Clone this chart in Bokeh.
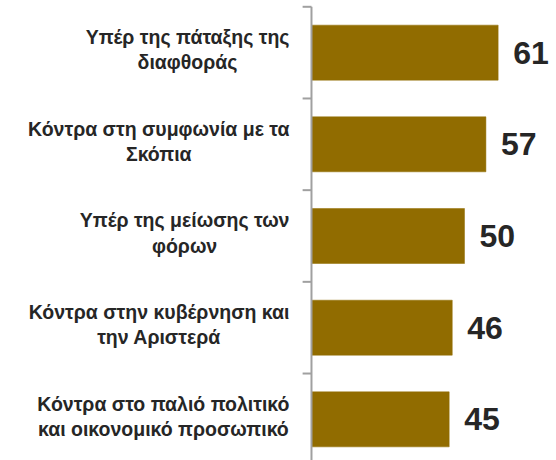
from bokeh.plotting import figure
from bokeh.models import ColumnDataSource, FactorRange, Range1d
from bokeh.core.properties import value
from bokeh.embed import file_html
from bokeh.resources import INLINE

categories = [
    "Υπέρ της πάταξης της\nδιαφθοράς",
    "Κόντρα στη συμφωνία με τα\nΣκόπια",
    "Υπέρ της μείωσης των\nφόρων",
    "Κόντρα στην κυβέρνηση και\nτην Αριστερά",
    "Κόντρα στο παλιό πολιτικό\nκαι οικονομικό προσωπικό",
]
values = [61, 57, 50, 46, 45]
value_labels = [str(v) for v in values]

BAR = "#916C00"
AXIS = "#A0A0A0"
TEXT = "#262626"

src = ColumnDataSource(dict(cat=categories, val=values, lab=value_labels,
                            zero=[0] * len(values), lx=[-7.2] * len(values)))

y_range = FactorRange(factors=list(reversed(categories)),
                      range_padding=-0.0513, range_padding_units="absolute")
x_range = Range1d(-101.63, 80.07)

p = figure(width=556, height=460, y_range=y_range, x_range=x_range,
           output_backend="svg", toolbar_location=None,
           x_axis_location=None, y_axis_location=None,
           min_border=0, min_border_left=0, min_border_right=0,
           min_border_top=11, min_border_bottom=0)
p.outline_line_color = None
p.grid.visible = False
p.background_fill_color = "white"
p.border_fill_color = "white"

p.hbar(y="cat", left="zero", right="val", height=0.6, source=src,
       fill_color=BAR, line_color=BAR, line_width=0.5)

# axis line at x = 0 and boundary ticks between categories
p.segment(x0=[0], x1=[0], y0=[(categories[0], 0.5)], y1=[(categories[-1], -0.5)],
          line_color=AXIS, line_width=2, level="overlay")
tick_y = [(c, -0.5) for c in categories] + [(categories[0], 0.5)]
p.segment(x0=[-2.9] * len(tick_y), x1=[0] * len(tick_y), y0=tick_y, y1=tick_y,
          line_color=AXIS, line_width=2, level="overlay")

# category labels
p.text(x="lx", y="cat", text="cat", source=src,
       anchor="center_right", text_align="center", text_baseline="middle",
       y_offset=-3, text_font=value("Liberation Sans"), text_font_style="bold",
       text_font_size="19.5px", text_color=TEXT, text_line_height=1.15)

# value labels
p.text(x="val", y="cat", text="lab", source=src, x_offset=15, y_offset=0,
       text_align="left", text_baseline="middle",
       text_font=value("Liberation Sans"), text_font_style="bold",
       text_font_size="32px", text_color=TEXT)

open("out.html", "w").write(file_html(p, INLINE))
